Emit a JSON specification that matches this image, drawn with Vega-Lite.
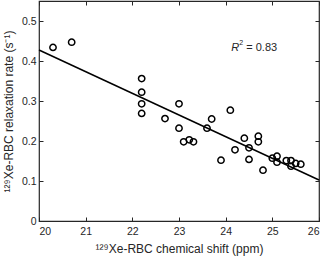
{
  "$schema": "https://vega.github.io/schema/vega-lite/v6.json",
  "width": 280,
  "height": 220,
  "autosize": "none",
  "padding": {"left": 39, "top": 1, "right": 6, "bottom": 37},
  "background": "white",
  "config": {
    "view": {"stroke": "#262626", "strokeWidth": 1.2},
    "font": "Liberation Sans",
    "axis": {"grid": false, "domain": false, "tickColor": "#262626", "tickSize": -4, "tickWidth": 1, "labelColor": "#262626", "labelFontSize": 10.5, "labelFont": "Liberation Sans", "titleFont": "Liberation Sans", "titleFontSize": 12, "titleFontWeight": "normal", "titleColor": "#262626"}
  },
  "datasets": {
    "pts": [
      {"shift": 20.3, "rate": 0.434},
      {"shift": 20.7, "rate": 0.447},
      {"shift": 22.2, "rate": 0.356},
      {"shift": 22.2, "rate": 0.322},
      {"shift": 22.2, "rate": 0.293},
      {"shift": 22.2, "rate": 0.269},
      {"shift": 22.7, "rate": 0.256},
      {"shift": 23.0, "rate": 0.293},
      {"shift": 23.0, "rate": 0.232},
      {"shift": 23.1, "rate": 0.198},
      {"shift": 23.22, "rate": 0.203},
      {"shift": 23.31, "rate": 0.198},
      {"shift": 23.6, "rate": 0.232},
      {"shift": 23.7, "rate": 0.255},
      {"shift": 23.9, "rate": 0.152},
      {"shift": 24.1, "rate": 0.277},
      {"shift": 24.2, "rate": 0.178},
      {"shift": 24.4, "rate": 0.207},
      {"shift": 24.5, "rate": 0.183},
      {"shift": 24.5, "rate": 0.154},
      {"shift": 24.7, "rate": 0.212},
      {"shift": 24.7, "rate": 0.198},
      {"shift": 24.8, "rate": 0.127},
      {"shift": 25.0, "rate": 0.157},
      {"shift": 25.1, "rate": 0.162},
      {"shift": 25.1, "rate": 0.147},
      {"shift": 25.3, "rate": 0.151},
      {"shift": 25.4, "rate": 0.151},
      {"shift": 25.4, "rate": 0.137},
      {"shift": 25.5, "rate": 0.144},
      {"shift": 25.61, "rate": 0.142}
    ],
    "fit": [
      {"shift": 20, "rate": 0.4275},
      {"shift": 26, "rate": 0.1025}
    ],
    "ann": [
      {"shift": 24.12, "rate": 0.433, "r": "R", "rest": "= 0.83", "sup": "2"}
    ]
  },
  "layer": [
    {
      "data": {"name": "pts"},
      "mark": {"type": "point", "shape": "circle", "filled": false, "stroke": "black", "strokeWidth": 1.5, "size": 40, "opacity": 1},
      "encoding": {
        "x": {"field": "shift", "type": "quantitative", "scale": {"domain": [20, 26], "nice": false, "zero": false}, "axis": {"orient": "bottom", "values": [20, 21, 22, 23, 24, 25, 26], "labelPadding": 9, "title": "¹²⁹Xe-RBC chemical shift (ppm)", "titlePadding": 7}},
        "y": {"field": "rate", "type": "quantitative", "scale": {"domain": [0, 0.55], "nice": false}, "axis": {"orient": "left", "values": [0, 0.1, 0.2, 0.3, 0.4, 0.5], "format": ".1~f", "labelPadding": 7, "title": "¹²⁹Xe-RBC relaxation rate (s⁻¹)", "titlePadding": 6}}
      }
    },
    {
      "data": {"name": "fit"},
      "mark": {"type": "line", "color": "black", "strokeWidth": 1.5},
      "encoding": {
        "x": {"field": "shift", "type": "quantitative", "axis": {"orient": "top", "values": [20, 21, 22, 23, 24, 25, 26], "labels": false, "title": null}},
        "y": {"field": "rate", "type": "quantitative", "axis": {"orient": "right", "values": [0, 0.1, 0.2, 0.3, 0.4, 0.5], "labels": false, "title": null}}
      }
    },
    {
      "data": {"name": "ann"},
      "mark": {"type": "text", "align": "left", "baseline": "middle", "fontStyle": "italic", "fontSize": 11, "color": "#262626"},
      "encoding": {
        "x": {"field": "shift", "type": "quantitative", "axis": null},
        "y": {"field": "rate", "type": "quantitative", "axis": null},
        "text": {"field": "r"}
      }
    },
    {
      "data": {"name": "ann"},
      "mark": {"type": "text", "align": "left", "baseline": "middle", "fontSize": 11, "dx": 15, "color": "#262626"},
      "encoding": {
        "x": {"field": "shift", "type": "quantitative", "axis": null},
        "y": {"field": "rate", "type": "quantitative", "axis": null},
        "text": {"field": "rest"}
      }
    },
    {
      "data": {"name": "ann"},
      "mark": {"type": "text", "align": "left", "baseline": "middle", "fontSize": 7, "dx": 8, "dy": -5, "color": "#262626"},
      "encoding": {
        "x": {"field": "shift", "type": "quantitative", "axis": null},
        "y": {"field": "rate", "type": "quantitative", "axis": null},
        "text": {"field": "sup"}
      }
    }
  ],
  "resolve": {"axis": {"x": "independent", "y": "independent"}}
}
